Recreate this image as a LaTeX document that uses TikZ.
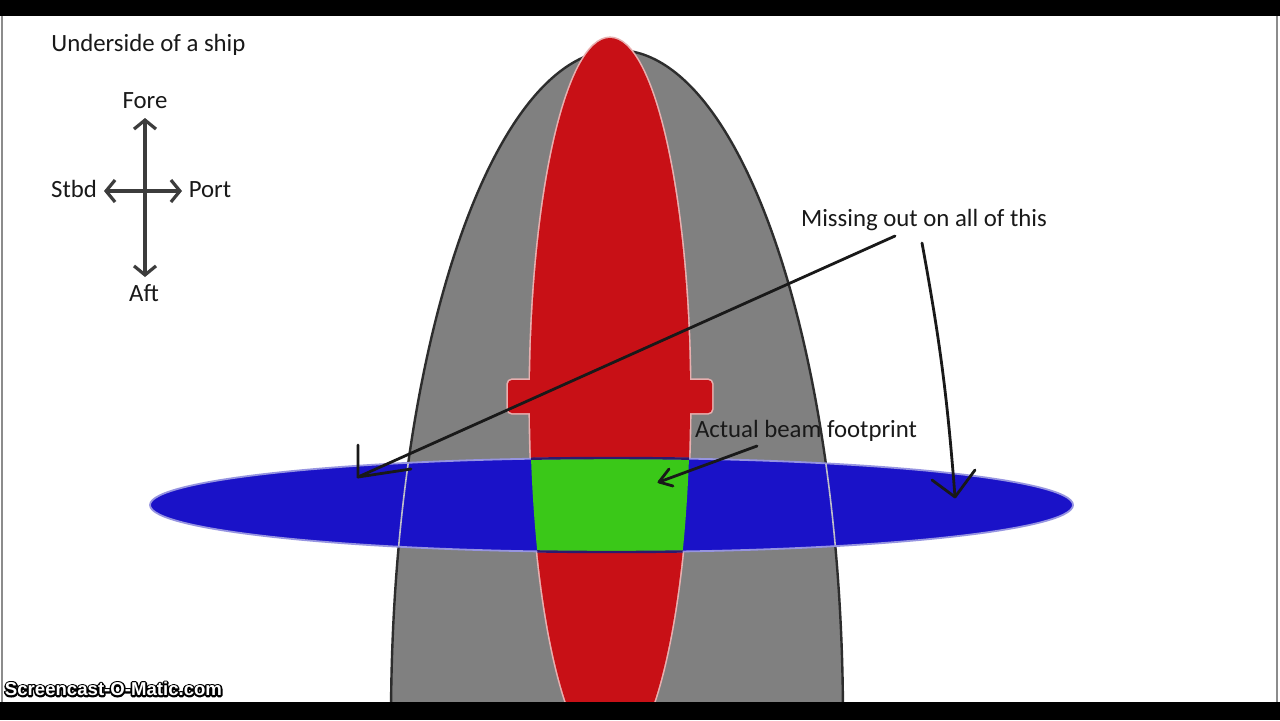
\documentclass[tikz,border=0pt]{standalone}
\usepackage{fontspec}
\setmainfont{Carlito}
\newfontfamily\wmfont{Liberation Sans}
\newfontfamily\wmhalo[FakeBold=18]{Liberation Sans}
\usetikzlibrary{arrows.meta}
\definecolor{figbar}{RGB}{0,0,0}
\definecolor{figframe}{RGB}{140,140,140}
\definecolor{hullgray}{RGB}{128,128,128}
\definecolor{hullline}{RGB}{45,45,45}
\definecolor{hullghost}{RGB}{190,190,200}
\definecolor{keelred}{RGB}{200,16,22}
\definecolor{keeledge}{RGB}{232,175,175}
\definecolor{beamblue}{RGB}{26,18,200}
\definecolor{beamedge}{RGB}{150,148,225}
\definecolor{beamdark}{RGB}{45,25,110}
\definecolor{hitgreen}{RGB}{58,200,24}
\definecolor{inkline}{RGB}{25,25,25}
\definecolor{compass}{RGB}{60,60,60}
\tikzset{
  lab/.style ={font=\fontsize{12.4}{14}\selectfont, text=inkline, inner sep=0pt},
  cmp/.style ={draw=compass, line width=1.6pt,
               {Straight Barb[length=4.5pt,width=11pt]}-{Straight Barb[length=4.5pt,width=11pt]}},
  ptr/.style ={draw=inkline, line width=1.4pt, line cap=round, line join=round},
  wm/.style  ={font=\wmfont\bfseries\fontsize{9.3}{11}\selectfont, inner sep=0pt},
  wmh/.style ={font=\wmhalo\bfseries\fontsize{9.3}{11}\selectfont, inner sep=0pt,
               line join=round, line cap=round},
}

\begin{document}
\begin{tikzpicture}[x=0.5pt, y=-0.5pt]
  \useasboundingbox (0,0) rectangle (1280,720);
  \clip (0,0) rectangle (1280,720);
  \fill[white] (0,0) rectangle (1280,720);
  % hull
  \begin{scope}
    \clip (0,0) rectangle (1280,702);
    \fill[hullgray] (617,720) ellipse [x radius=226, y radius=670];
    \draw[hullline, line width=1.2pt] (617,720) ellipse [x radius=226, y radius=670];
    % keel
    \draw[keeledge, line width=1.6pt] (610,400) ellipse [x radius=80, y radius=362];
    \draw[keeledge, line width=1.6pt, rounded corners=2pt] (508,380) rectangle (712,413);
    \fill[keelred] (610,400) ellipse [x radius=80, y radius=362];
    \fill[keelred, rounded corners=2pt] (508,380) rectangle (712,413);
  \end{scope}
  % beam
  \fill[beamblue] (611.5,505) ellipse [x radius=461.5, y radius=47];
  \begin{scope}
    \clip (611.5,505) ellipse [x radius=461.5, y radius=47];
    \draw[hullghost, line width=0.8pt] (617,720) ellipse [x radius=226, y radius=670];
    \fill[hitgreen] (610,400) ellipse [x radius=80, y radius=362];
  \end{scope}
  \draw[beamedge, line width=0.9pt] (611.5,505) ellipse [x radius=461.5, y radius=47];
  \begin{scope}
    \clip (610,400) ellipse [x radius=80, y radius=362];
    \draw[beamdark, line width=1.2pt] (611.5,505) ellipse [x radius=461.5, y radius=47];
  \end{scope}
  % frame
  \fill[figbar] (0,0) rectangle (1280,16);
  \fill[figbar] (0,702) rectangle (1280,720);
  \draw[figframe, line width=1pt] (1.5,16) -- (1.5,702);
  \draw[figframe, line width=1pt] (1277,16) -- (1277,702);
  % labels
  \node[lab, anchor=west] (title) at (51,45) {Underside of a ship};
  \node[lab] (fore) at (145,101) {Fore};
  \node[lab] (aft) at (144,293) {Aft};
  \node[lab] (stbd) at (74,189) {Stbd};
  \node[lab] (port) at (210,190) {Port};
  \node[lab] (missing) at (924,220) {Missing out on all of this};
  \node[lab] (beam) at (806,431) {Actual beam footprint};
  % compass
  \coordinate (cn) at (145,118);
  \coordinate (cs) at (145,277);
  \coordinate (cw) at (104,191);
  \coordinate (ce) at (182,191);
  \draw[cmp] (cs) -- (cn);
  \draw[cmp] (cw) -- (ce);
  % pointers
  \coordinate (m1) at (895,236);
  \coordinate (t1) at (358,477);
  \coordinate (t1a) at (358,445);
  \coordinate (t1b) at (411,469);
  \draw[ptr] (m1) -- (t1);
  \draw[ptr] (t1a) -- (t1) -- (t1b);
  \coordinate (m2) at (922,243);
  \coordinate (t2) at (955,497);
  \coordinate (t2a) at (932,480);
  \coordinate (t2b) at (975,470);
  \draw[ptr] (m2) to[bend left=3] (t2);
  \draw[ptr] (t2a) -- (t2) -- (t2b);
  \coordinate (b1) at (757,446);
  \coordinate (t3) at (659,482);
  \coordinate (t3a) at (669,469);
  \coordinate (t3b) at (673,486);
  \draw[ptr] (b1) -- (t3);
  \draw[ptr] (t3a) -- (t3) -- (t3b);
  % watermark
  \node[wmh, text=black] (wmhalo) at (113.5,689) {Screencast-O-Matic.com};
  \node[wm, text=white] (wmark) at (113.5,689) {Screencast-O-Matic.com};
\end{tikzpicture}
\end{document}
